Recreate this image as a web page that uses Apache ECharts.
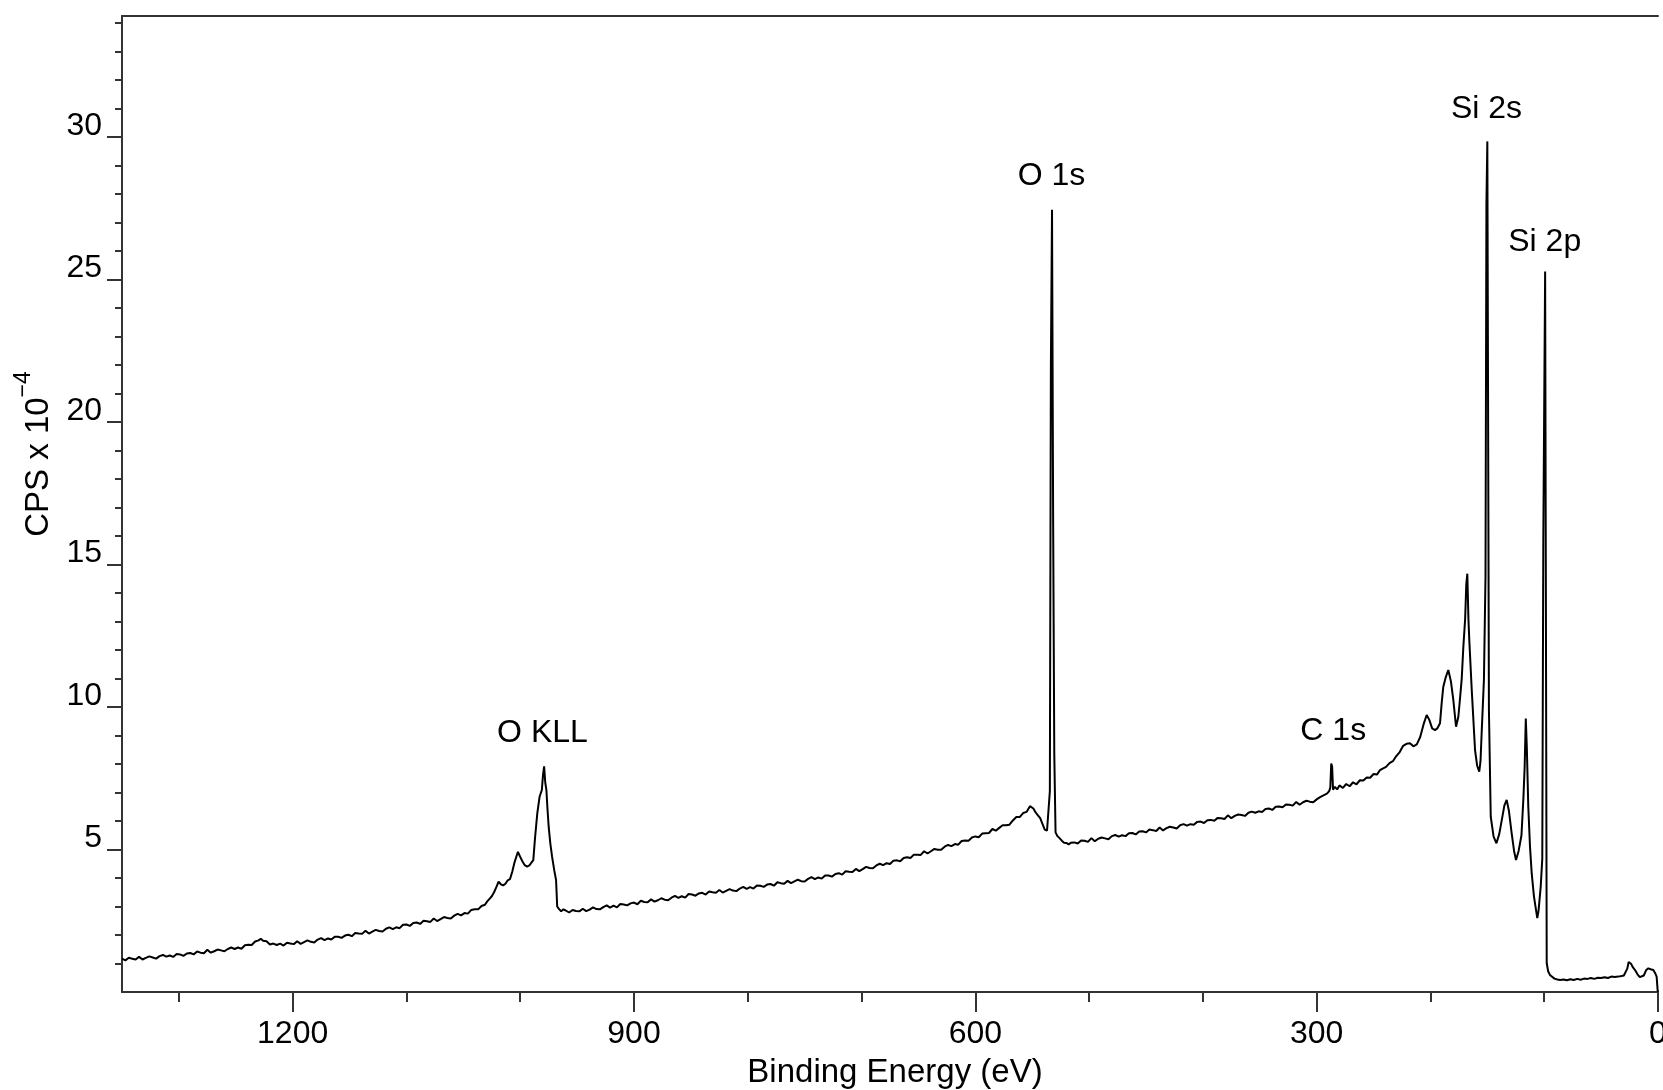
<!DOCTYPE html>
<html>
<head>
<meta charset="utf-8">
<script src="https://cdn.jsdelivr.net/npm/echarts@6/dist/echarts.min.js"></script>
<style>
html,body{margin:0;padding:0;background:#fff;}
#chart{width:1663px;height:1090px;}
</style>
</head>
<body>
<div id="chart"></div>
<script>
// ---- Data: [binding energy (eV), CPS x 10^-4] ----
const highBE = [[1350,1.17],[1347,1.11],[1344,1.20],[1341,1.17],[1338,1.14],[1335,1.24],[1332,1.14],[1329,1.20],[1326,1.25],[1323,1.21],[1320,1.17],[1317,1.26],[1314,1.30],[1311,1.24],[1308,1.28],[1305,1.23],[1302,1.33],[1299,1.32],[1296,1.27],[1293,1.35],[1290,1.37],[1287,1.32],[1284,1.42],[1281,1.38],[1278,1.36],[1275,1.48],[1272,1.38],[1269,1.43],[1266,1.49],[1263,1.46],[1260,1.43],[1257,1.51],[1254,1.56],[1251,1.51],[1248,1.56],[1245,1.52],[1242,1.64],[1239,1.66],[1236,1.65],[1233,1.77],[1230,1.81],[1228,1.87],[1226,1.80],[1223,1.78],[1220,1.67],[1217,1.70],[1214,1.65],[1211,1.70],[1208,1.63],[1205,1.73],[1202,1.70],[1199,1.68],[1196,1.78],[1193,1.69],[1190,1.75],[1187,1.81],[1184,1.76],[1181,1.74],[1178,1.84],[1175,1.89],[1172,1.82],[1169,1.88],[1166,1.84],[1163,1.94],[1160,1.94],[1157,1.90],[1154,1.98],[1151,2.01],[1148,1.96],[1145,2.07],[1142,2.05],[1139,2.04],[1136,2.15],[1133,2.05],[1130,2.12],[1127,2.18],[1124,2.14],[1121,2.12],[1118,2.22],[1115,2.27],[1112,2.21],[1109,2.27],[1106,2.24],[1103,2.36],[1100,2.37],[1097,2.32],[1094,2.42],[1091,2.44],[1088,2.39],[1085,2.50],[1082,2.48],[1079,2.46],[1076,2.58],[1073,2.49],[1070,2.56],[1067,2.63],[1064,2.60],[1061,2.58],[1058,2.68],[1055,2.74],[1052,2.69],[1049,2.77],[1046,2.75],[1043,2.88],[1040,2.90],[1037,2.90],[1034,3.02],[1031,3.06]];

const oKLL = [[1029,3.18],[1027,3.27],[1025,3.36],[1023,3.50],[1021,3.68],[1019,3.87],[1017,3.78],[1015,3.74],[1013,3.80],[1011,3.92],[1009,3.96],[1007,4.22],[1005,4.55],[1003,4.80],[1002,4.92],[1000,4.74],[998,4.58],[996,4.45],[994,4.40],[992,4.44],[990,4.55],[988.5,4.63],[987,5.40],[985,6.27],[983,6.85],[981,7.09],[980,7.60],[979,7.92],[978,7.35],[977,7.09],[976,6.40],[975,5.80],[973.5,5.20],[972,4.75],[970,4.25],[968.5,3.93],[967.5,3.00],[966,2.92],[964,2.83],[962,2.90]];

const midBE = [[960,2.86],[957,2.79],[954,2.88],[951,2.84],[948,2.83],[945,2.92],[942,2.84],[939,2.89],[936,2.97],[933,2.91],[930,2.90],[927,2.98],[924,3.04],[921,2.96],[918,3.03],[915,2.97],[912,3.09],[909,3.07],[906,3.04],[903,3.11],[900,3.14],[897,3.08],[894,3.20],[891,3.16],[888,3.15],[885,3.25],[882,3.17],[879,3.22],[876,3.29],[873,3.24],[870,3.22],[867,3.31],[864,3.37],[861,3.30],[858,3.36],[855,3.31],[852,3.44],[849,3.42],[846,3.38],[843,3.46],[840,3.48],[837,3.42],[834,3.53],[831,3.50],[828,3.48],[825,3.58],[822,3.49],[819,3.55],[816,3.61],[813,3.56],[810,3.54],[807,3.63],[804,3.69],[801,3.62],[798,3.68],[795,3.63],[792,3.74],[789,3.73],[786,3.69],[783,3.77],[780,3.79],[777,3.73],[774,3.85],[771,3.82],[768,3.80],[765,3.90],[762,3.82],[759,3.88],[756,3.94],[753,3.89],[750,3.88],[747,3.97],[744,4.03],[741,3.96],[738,4.02],[735,3.98],[732,4.09],[729,4.09],[726,4.05],[723,4.14],[720,4.17],[717,4.12],[714,4.24],[711,4.22],[708,4.21],[705,4.32],[702,4.24],[699,4.31],[696,4.39],[693,4.35],[690,4.34],[687,4.44],[684,4.50],[681,4.45],[678,4.52],[675,4.49],[672,4.61],[669,4.62],[666,4.59],[663,4.70],[660,4.73],[657,4.70],[654,4.82],[651,4.82],[648,4.81],[645,4.94],[642,4.86],[639,4.94],[636,5.02],[633,4.99],[630,4.99],[627,5.10],[624,5.16],[621,5.12],[618,5.19],[615,5.17],[612,5.30],[609,5.32],[606,5.31],[603,5.42],[600,5.46],[597,5.43],[594,5.56],[591,5.57],[588,5.58],[585,5.72],[582,5.66],[579,5.76],[576,5.85],[573,5.85],[570,5.87],[567,6.02],[564,6.14],[561,6.14],[558,6.28],[555,6.32],[552,6.52],[550.5,6.56],[549,6.44],[547,6.30],[545,6.20],[543,6.10],[541,5.90],[539,5.70],[537,5.66]];

const o1s = [[536,5.70],[535.5,5.64],[534.5,7.05],[533.6,22.0],[532.6,27.45],[531.6,16.46],[530.6,8.33],[529.5,5.60]];

const lowBE = [[528,5.48],[526,5.40],[524,5.31],[522,5.24],[520,5.23],[518,5.18],[516,5.24],[513,5.25],[510,5.21],[507,5.32],[504,5.31],[501,5.27],[498,5.40],[495,5.29],[492,5.38],[489,5.42],[486,5.39],[483,5.36],[480,5.47],[477,5.51],[474,5.45],[471,5.50],[468,5.47],[465,5.57],[462,5.58],[459,5.53],[456,5.63],[453,5.64],[450,5.60],[447,5.70],[444,5.68],[441,5.65],[438,5.77],[435,5.67],[432,5.75],[429,5.80],[426,5.77],[423,5.74],[420,5.85],[417,5.89],[414,5.84],[411,5.89],[408,5.87],[405,5.97],[402,5.98],[399,5.93],[396,6.03],[393,6.04],[390,6.01],[387,6.11],[384,6.10],[381,6.07],[378,6.20],[375,6.10],[372,6.18],[369,6.23],[366,6.21],[363,6.18],[360,6.29],[357,6.33],[354,6.29],[351,6.34],[348,6.32],[345,6.42],[342,6.44],[339,6.39],[336,6.50],[333,6.51],[330,6.48],[327,6.58],[324,6.57],[321,6.54],[318,6.67],[315,6.57],[312,6.66],[309,6.71],[306,6.68],[303,6.66],[300,6.76],[297,6.84],[294,6.90],[291,6.96],[289,7.05],[288,7.18],[287.2,8.02],[286.4,7.90],[285.6,7.10],[284,7.20],[282,7.11],[280,7.25],[277,7.16],[274,7.30],[271,7.22],[268,7.36],[265,7.29],[262,7.43],[259,7.42],[256,7.53],[253,7.52],[250,7.65],[247,7.63],[244.3,7.79]];

const siRegion = [[242,7.84],[239,7.90],[236,8.03],[233,8.10],[230,8.28],[227,8.42],[224,8.64],[221,8.71],[218,8.73],[215,8.62],[212,8.69],[209,8.95],[206,9.40],[203.3,9.72],[201,9.55],[198.5,9.25],[196,9.19],[194,9.25],[191.6,9.43],[190,10.2],[188.7,10.71],[186.5,11.05],[184.3,11.30],[182,10.90],[179.9,10.25],[178.5,9.70],[177.5,9.31],[175.5,9.65],[174,10.3],[172.5,11.0],[171.1,12.1],[169.5,13.1],[168.5,14.3],[167.6,14.68],[166.6,13.07],[165.8,12.3],[163.7,10.6],[160.8,8.49],[159,7.95],[157.1,7.73],[156,8.1],[155,9.08],[153,10.95],[151.6,14.61],[150.8,27.64],[150.0,29.85],[148.6,9.89],[147.0,6.15],[144.5,5.45],[142,5.22],[139.5,5.55],[137,6.10],[135,6.55],[133,6.74],[131,6.35],[128.6,5.57],[126.5,4.95],[124.8,4.63],[122.5,4.95],[120,5.50],[118.3,6.80],[117.2,7.90],[116.2,9.60],[115.3,8.60],[114,6.50],[112.5,5.10],[111,4.16],[109,3.35],[107.5,2.95],[106.1,2.59],[105,2.85],[103.1,3.69],[101.7,4.69],[100.8,15.9],[99.2,25.28],[97.8,1.01],[96.5,0.72],[95,0.60],[93.4,0.54],[91,0.47],[88.5,0.44],[86,0.42]];

const valence = [[83,0.44],[80,0.41],[77,0.45],[74,0.42],[71,0.46],[68,0.43],[65,0.47],[62,0.46],[59,0.49],[56,0.46],[53,0.50],[50,0.49],[47,0.52],[44,0.49],[41,0.54],[38,0.53],[35,0.54],[32,0.56],[30,0.58],[28.5,0.65],[27,0.82],[25.8,1.05],[24.6,1.12],[23.5,0.98],[22,0.86],[20.2,0.77],[18,0.62],[16,0.52],[14.4,0.48],[12.5,0.58],[10.5,0.76],[8.5,0.83],[6.5,0.80],[4.1,0.77],[2.5,0.66],[1.2,0.54],[0.3,0.05],[0,0.0]];

// Peak annotations (label anchor in data space)
const peakNames  = ['O KLL', 'O 1s', 'C 1s', 'Si 2s', 'Si 2p'];
const peakEnergy = [980.0, 532.6, 285.0, 150.3, 99.1];
const peakCps    = [9.05, 28.60, 9.15, 30.95, 26.30];

// Axis ticks
const xMajorTicks = [1200, 900, 600, 300, 0];
const xMinorTicks = [1300, 1100, 1000, 800, 700, 500, 400, 200, 100];
const yMajorTicks = [5, 10, 15, 20, 25, 30];
const yMinorTicks = [1,2,3,4,6,7,8,9,11,12,13,14,16,17,18,19,21,22,23,24,26,27,28,29,31,32,33,34];

const spectrum = [].concat(highBE, oKLL, midBE, o1s, lowBE, siRegion, valence);

const FONT = 'Liberation Sans, Arial, Helvetica, sans-serif';
const AXC = '#333';

const chart = echarts.init(document.getElementById('chart'), null, {renderer: 'canvas'});
chart.setOption({
  animation: false,
  backgroundColor: '#fff',
  textStyle: {fontFamily: FONT},
  grid: {left: 122, right: 5, top: 16, bottom: 98, containLabel: false, outerBoundsMode: 'none'},
  xAxis: [
    {
      type: 'value', min: 0, max: 1350, inverse: true, position: 'bottom',
      axisLine: {show: true, onZero: false, lineStyle: {color: AXC, width: 2}},
      axisTick: {show: true, length: 20, customValues: xMajorTicks, lineStyle: {color: AXC, width: 2}},
      axisLabel: {show: true, customValues: xMajorTicks, fontSize: 32, margin: 26, color: '#000',
                  fontFamily: FONT, formatter: v => String(v), hideOverlap: false},
      splitLine: {show: false},
      name: 'Binding Energy (eV)', nameLocation: 'middle', nameGap: 64,
      nameTextStyle: {fontSize: 33, color: '#000', fontFamily: FONT, padding: [0, 0, 0, 10]}
    },
    {
      type: 'value', min: 0, max: 1350, inverse: true, position: 'bottom',
      axisLine: {show: false, onZero: false},
      axisTick: {show: true, length: 10, customValues: xMinorTicks, lineStyle: {color: AXC, width: 2}},
      axisLabel: {show: false},
      splitLine: {show: false}
    },
    {
      type: 'value', min: 0, max: 1350, inverse: true, position: 'top',
      axisLine: {show: true, onZero: false, lineStyle: {color: AXC, width: 2}},
      axisTick: {show: false}, axisLabel: {show: false}, splitLine: {show: false}
    }
  ],
  yAxis: [
    {
      type: 'value', min: 0, max: 34.25, position: 'left',
      axisLine: {show: true, onZero: false, lineStyle: {color: AXC, width: 2}},
      axisTick: {show: true, length: 15, customValues: yMajorTicks, lineStyle: {color: AXC, width: 2}},
      axisLabel: {show: true, customValues: yMajorTicks, fontSize: 32, margin: 20, color: '#000',
                  verticalAlign: 'bottom', lineHeight: 22, fontFamily: FONT, formatter: v => String(v)},
      splitLine: {show: false},
      name: '{a|CPS x 10}{b|−4}', nameLocation: 'middle', nameRotate: 90, nameGap: 50,
      nameTextStyle: {
        padding: [0, 0, 0, 100],
        rich: {
          a: {fontSize: 33, color: '#000', fontFamily: FONT, verticalAlign: 'bottom', lineHeight: 33},
          b: {fontSize: 23, color: '#000', fontFamily: FONT, verticalAlign: 'bottom', padding: [0, 0, 20, 0]}
        }
      }
    },
    {
      type: 'value', min: 0, max: 34.25, position: 'left',
      axisLine: {show: false, onZero: false},
      axisTick: {show: true, length: 7, customValues: yMinorTicks, lineStyle: {color: AXC, width: 2}},
      axisLabel: {show: false},
      splitLine: {show: false}
    }
  ],
  series: [
    {
      type: 'line', xAxisIndex: 0, yAxisIndex: 0,
      data: spectrum, showSymbol: false, symbol: 'none', smooth: false,
      lineStyle: {color: '#000', width: 2}, silent: true
    },
    {
      type: 'scatter', xAxisIndex: 0, yAxisIndex: 0,
      data: peakNames.map((n, i) => ({name: n, value: [peakEnergy[i], peakCps[i]]})),
      symbolSize: 1, itemStyle: {color: '#fff', opacity: 1}, silent: true, z: 5,
      label: {show: true, position: [0, 0], align: 'center', verticalAlign: 'middle', opacity: 1,
              formatter: p => p.name, fontSize: 32, color: '#000', fontFamily: FONT,
              textBorderWidth: 0}
    }
  ]
});
</script>
</body>
</html>
